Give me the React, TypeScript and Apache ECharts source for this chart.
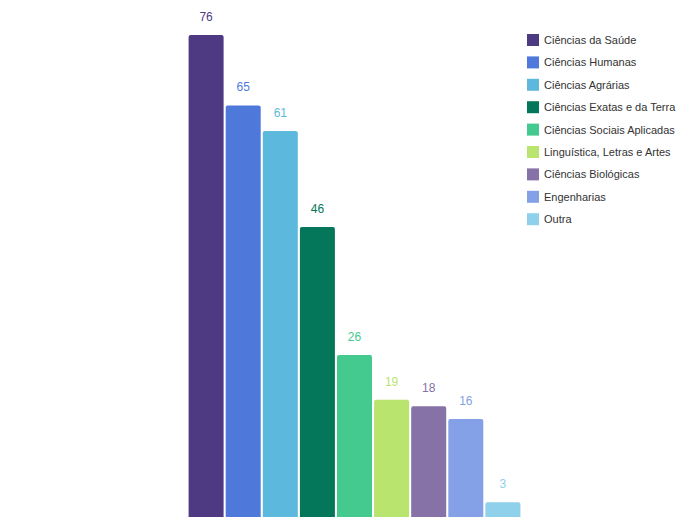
import React, { useEffect, useRef } from "react";
import * as echarts from "echarts";

const areas = [
  "Ciências da Saúde",
  "Ciências Humanas",
  "Ciências Agrárias",
  "Ciências Exatas e da Terra",
  "Ciências Sociais Aplicadas",
  "Linguística, Letras e Artes",
  "Ciências Biológicas",
  "Engenharias",
  "Outra",
];
const counts = [76, 65, 61, 46, 26, 19, 18, 16, 3];
const colors = [
  "#4e3a82",
  "#4f78db",
  "#5db8de",
  "#04775a",
  "#44c98f",
  "#b9e46e",
  "#8672a6",
  "#84a0e6",
  "#8fd0ea",
];

export default function App() {
  const ref = useRef<HTMLDivElement>(null);
  useEffect(() => {
    if (!ref.current) return;
    const chart = echarts.init(ref.current, undefined, { renderer: "svg" });
    chart.setOption({
      animation: false,
      textStyle: { fontFamily: "Liberation Sans, Arial, sans-serif" },
      grid: { left: 150, width: 409, top: 9.4, height: 512 },
      xAxis: { type: "category", data: [""], show: false },
      yAxis: { type: "value", min: 0, max: 80, show: false },
      legend: {
        orient: "vertical",
        left: 522,
        top: 29,
        itemWidth: 12,
        itemHeight: 12,
        itemGap: 10.4,
        icon: "rect",
        textStyle: { fontSize: 11, color: "#333" },
        data: areas,
      },
      series: areas.map((name, i) => ({
        name,
        type: "bar",
        data: [counts[i]],
        barWidth: 35,
        barGap: "6%",
        itemStyle: {
          color: colors[i],
          borderRadius: [2, 2, 0, 0],
        },
        label: {
          show: true,
          position: "top",
          distance: 12,
          color: colors[i],
          fontSize: 12,
        },
      })),
    });
    return () => chart.dispose();
  }, []);
  return (
    <div
      style={{
        position: "fixed",
        left: 0,
        top: 0,
        width: 679,
        height: 517,
        overflow: "hidden",
        background: "#fff",
      }}
    >
      <div ref={ref} style={{ width: 679, height: 540 }} />
    </div>
  );
}
